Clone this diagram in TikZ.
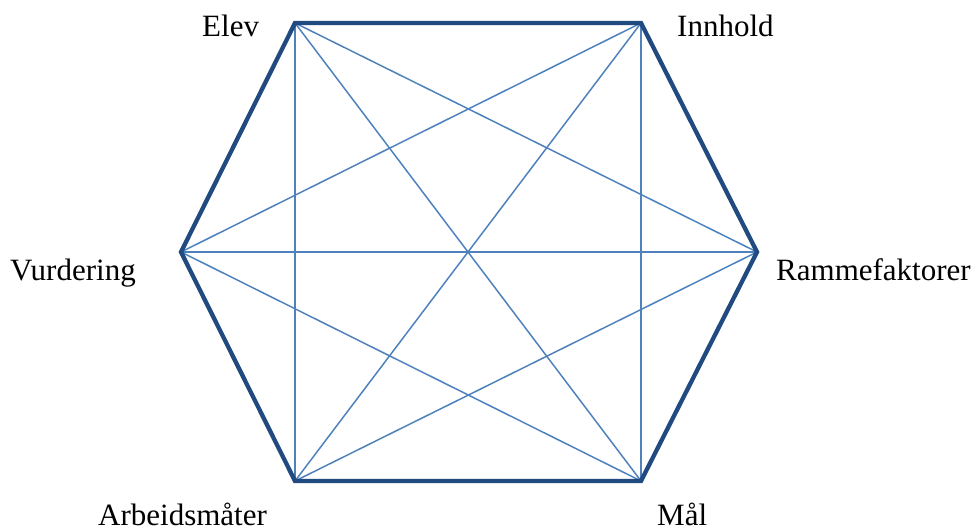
\documentclass[tikz,border=0pt]{standalone}
\usepackage{fontspec}
\setmainfont{Liberation Serif}
\definecolor{edgedark}{RGB}{33,74,128}
\definecolor{edgelight}{RGB}{79,129,189}
\tikzset{
  rim/.style={draw=edgedark, line width=4.3pt, line join=miter},
  chord/.style={draw=edgelight, line width=1.5pt},
  lbl/.style={inner sep=0pt, anchor=base west, font=\fontsize{31}{36}\selectfont}
}
\begin{document}
\begin{tikzpicture}[x=1pt,y=-1pt]
\useasboundingbox (0,0) rectangle (979,530);
\coordinate (E) at (295,23);
\coordinate (I) at (641,23);
\coordinate (R) at (757,252);
\coordinate (M) at (641,481);
\coordinate (A) at (295,481);
\coordinate (V) at (181,252);
\draw[chord] (E) -- (R);
\draw[chord] (E) -- (M);
\draw[chord] (E) -- (A);
\draw[chord] (I) -- (V);
\draw[chord] (I) -- (A);
\draw[chord] (I) -- (M);
\draw[chord] (R) -- (V);
\draw[chord] (R) -- (A);
\draw[chord] (M) -- (V);
\draw[rim] (E) -- (I) -- (R) -- (M) -- (A) -- (V) -- cycle;
\node[lbl] (tE) at (202,36) {Elev};
\node[lbl] (tI) at (677,36) {Innhold};
\node[lbl] (tV) at (10,280) {Vurdering};
\node[lbl] (tR) at (776,280) {Rammefaktorer};
\node[lbl] (tA) at (98,525) {Arbeidsmåter};
\node[lbl] (tM) at (657,525) {Mål};
\end{tikzpicture}
\end{document}
